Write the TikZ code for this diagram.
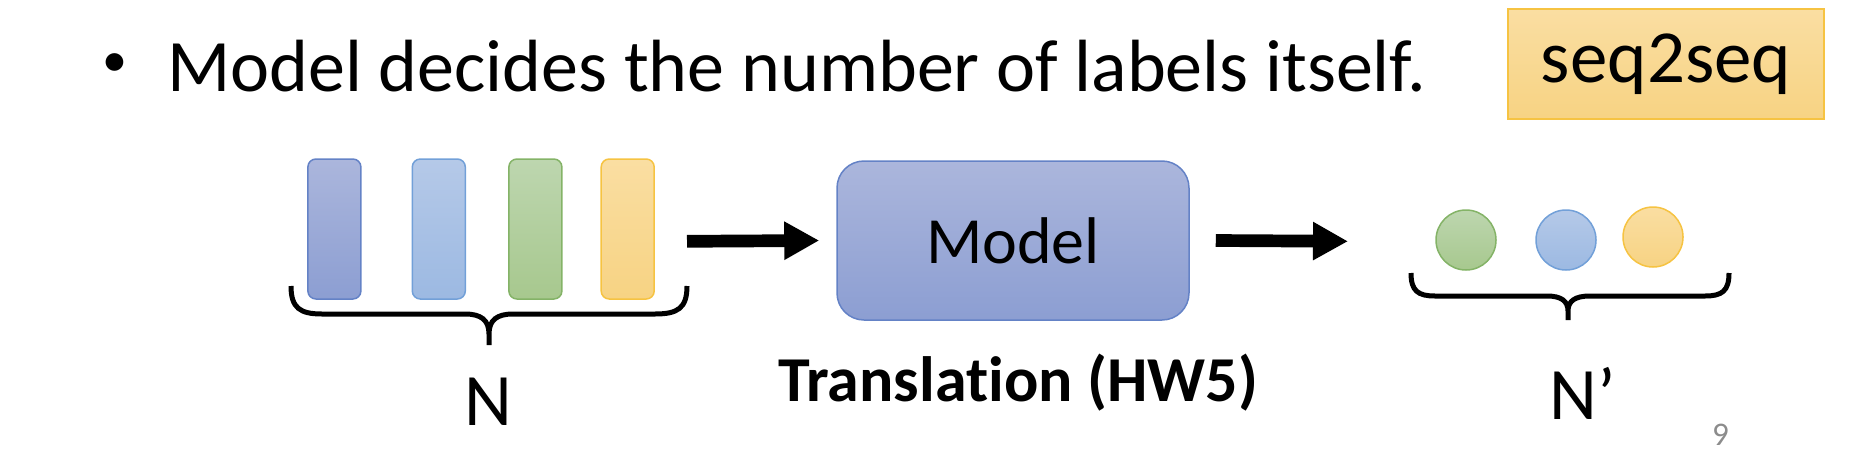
\documentclass[tikz,border=0pt]{standalone}
\usepackage{fontspec}
\setmainfont{Carlito}[Ligatures=NoCommon]
\usetikzlibrary{positioning,arrows.meta}
\definecolor{indigoTop}{HTML}{ABB6DC}\definecolor{indigoBot}{HTML}{8C9ED2}\definecolor{indigoLine}{HTML}{6482C6}
\definecolor{skyTop}{HTML}{B5C9E8}\definecolor{skyBot}{HTML}{9CB9E2}\definecolor{skyLine}{HTML}{72A0D8}
\definecolor{leafTop}{HTML}{BDD6AF}\definecolor{leafBot}{HTML}{A7C88E}\definecolor{leafLine}{HTML}{84B367}
\definecolor{goldTop}{HTML}{FADEA2}\definecolor{goldBot}{HTML}{F7D383}\definecolor{goldLine}{HTML}{F6C342}
\definecolor{pageGray}{HTML}{8C8C8C}

\begin{document}
\begin{tikzpicture}[x=1pt,y=-1pt,
    token bar/.style={draw,line width=1.5pt,rounded corners=8pt,minimum width=53pt,minimum height=140pt,inner sep=0pt},
    out dot/.style={circle,draw,line width=1.5pt,minimum size=60pt,inner sep=0pt},
    fat arrow/.style={line width=12.7pt,-{Triangle[length=35pt,width=36pt]}},
    brace line/.style={line width=5pt}
  ]
\useasboundingbox (0,0) rectangle (1862,466);
\node (bullet) at (115,65) {\fontsize{50}{60}\selectfont •};
\node[anchor=base west,inner sep=0pt] (claim) at (167,91) {\fontsize{74}{88}\selectfont Model decides the number of labels itself.};
\node[draw=goldLine,line width=1.5pt,top color=goldTop,bottom color=goldBot,minimum width=316pt,minimum height=110pt,inner sep=0pt] (task) at (1666,64) {\fontsize{75}{90}\selectfont seq2seq};

\node[token bar,draw=indigoLine,top color=indigoTop,bottom color=indigoBot] (in1) at (334.4,229) {};
\node[token bar,draw=skyLine,top color=skyTop,bottom color=skyBot] (in2) at (438.8,229) {};
\node[token bar,draw=leafLine,top color=leafTop,bottom color=leafBot] (in3) at (535.4,229) {};
\node[token bar,draw=goldLine,top color=goldTop,bottom color=goldBot] (in4) at (627.7,229) {};
\draw[brace line] (291,286) .. controls (291,308) and (300,314) .. (322,314) -- (465,314) .. controls (481,314) and (489,320) .. (489,334) -- (489,345)
  (489,345) -- (489,334) .. controls (489,320) and (497,314) .. (513,314) -- (655,314) .. controls (678,314) and (687,308) .. (687,286);
\node[anchor=base] (n) at (488,425) {\fontsize{74}{88}\selectfont N};

\node[draw=indigoLine,line width=1.5pt,rounded corners=27pt,top color=indigoTop,bottom color=indigoBot,minimum width=352pt,minimum height=159pt] (model) at (1013,240.5) {\fontsize{66}{80}\selectfont Model};
\node[anchor=base west,inner sep=0pt] (task name) at (778,401) {\fontsize{64}{78}\selectfont\bfseries Translation (HW5)};
\coordinate (a1s) at (687,241.3); \coordinate (a2e) at (1348,241.3);
\draw[fat arrow] (a1s) -- ([xshift=-17pt]model.west);
\draw[fat arrow] ([xshift=26pt]model.east) -- (a2e);

\node[out dot,draw=leafLine,top color=leafTop,bottom color=leafBot] (out1) at (1466,240) {};
\node[out dot,draw=skyLine,top color=skyTop,bottom color=skyBot] (out2) at (1566,240) {};
\node[out dot,draw=goldLine,top color=goldTop,bottom color=goldBot] (out3) at (1653,237) {};
\draw[brace line] (1411,273) .. controls (1411,291) and (1418,296) .. (1435,296) -- (1547,296) .. controls (1561,296) and (1568,301) .. (1568,311) -- (1568,320)
  (1568,320) -- (1568,311) .. controls (1568,301) and (1575,296) .. (1590,296) -- (1705,296) .. controls (1722,296) and (1729,291) .. (1729,273);
\node[anchor=base west,inner sep=0pt] (n out) at (1549,419) {\fontsize{74}{88}\selectfont N’};

\node[text=pageGray] (page) at (1720.5,435) {\fontsize{33}{40}\selectfont 9};
\end{tikzpicture}
\end{document}
